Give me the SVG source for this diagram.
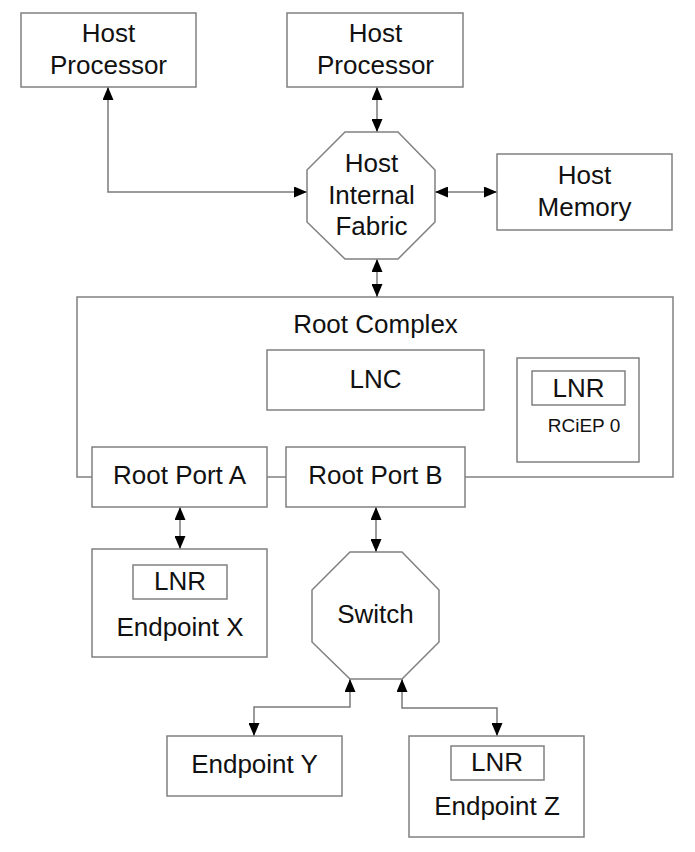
<svg xmlns="http://www.w3.org/2000/svg" width="695" height="852" viewBox="0 0 695 852">
<style>
.box{fill:#fff;stroke:#808080;stroke-width:1.5}
.rc{fill:none;stroke:#808080;stroke-width:1.5}
.t{font-family:"Liberation Sans",Arial,sans-serif;font-size:26px;fill:#111;text-anchor:middle}
.s{font-family:"Liberation Sans",Arial,sans-serif;font-size:19px;fill:#111;text-anchor:middle}
.c{fill:none;stroke:#7a7a7a;stroke-width:1.5;marker-start:url(#ah);marker-end:url(#ah)}
</style>
<defs>
<marker id="ah" markerUnits="userSpaceOnUse" markerWidth="13" markerHeight="11" refX="13" refY="5.5" orient="auto-start-reverse" viewBox="0 0 13 11">
<path d="M0,0 L13,5.5 L0,11 z" fill="#000"/>
</marker>
</defs>
<rect width="695" height="852" fill="#fff"/>

<g id="root-complex">
<rect class="rc" x="77" y="297" width="596" height="180"/>
<text class="t" x="375.5" y="333">Root Complex</text>
</g>

<g id="connectors">
<path class="c" d="M108,87 V192 H307"/>
<path class="c" d="M377,87 V132"/>
<path class="c" d="M435,192 H497"/>
<path class="c" d="M377,259 V297"/>
<path class="c" d="M180,507 V549"/>
<path class="c" d="M376,507 V552"/>
<path class="c" d="M350,679 V707 H254 V736"/>
<path class="c" d="M402,679 V708 H497 V736"/>
</g>

<g id="host-processor-1">
<rect class="box" x="21" y="13" width="175" height="74"/>
<text class="t" x="108.5" y="42">Host</text>
<text class="t" x="108.5" y="74">Processor</text>
</g>

<g id="host-processor-2">
<rect class="box" x="287" y="13" width="176" height="74"/>
<text class="t" x="375.5" y="42">Host</text>
<text class="t" x="375.5" y="74">Processor</text>
</g>

<g id="host-internal-fabric">
<polygon class="box" points="345,132 398,132 435,170 435,222 398,259 345,259 307,222 307,170"/>
<text class="t" x="371.5" y="172">Host</text>
<text class="t" x="371.5" y="204">Internal</text>
<text class="t" x="371.5" y="235">Fabric</text>
</g>

<g id="host-memory">
<rect class="box" x="497" y="154" width="175" height="76"/>
<text class="t" x="584.5" y="184">Host</text>
<text class="t" x="584.5" y="216">Memory</text>
</g>

<g id="lnc">
<rect class="box" x="267" y="350" width="217" height="60"/>
<text class="t" x="375.5" y="388">LNC</text>
</g>

<g id="rciep-0">
<rect class="box" x="517" y="358" width="122" height="104"/>
<rect class="box" x="532" y="371" width="93" height="34"/>
<text class="t" x="578.5" y="397">LNR</text>
<text class="s" x="584" y="432">RCiEP 0</text>
</g>

<g id="root-port-a">
<rect class="box" x="92" y="447" width="175" height="60"/>
<text class="t" x="179.5" y="484">Root Port A</text>
</g>

<g id="root-port-b">
<rect class="box" x="286" y="447" width="179" height="60"/>
<text class="t" x="375.5" y="484">Root Port B</text>
</g>

<g id="endpoint-x">
<rect class="box" x="92" y="549" width="175" height="108"/>
<rect class="box" x="133" y="565" width="94" height="34"/>
<text class="t" x="180" y="590">LNR</text>
<text class="t" x="180" y="636">Endpoint X</text>
</g>

<g id="switch">
<polygon class="box" points="350,552 402,552 439,590 439,642 402,679 350,679 312,642 312,590"/>
<text class="t" x="375.5" y="623">Switch</text>
</g>

<g id="endpoint-y">
<rect class="box" x="167" y="736" width="175" height="60"/>
<text class="t" x="254.5" y="773">Endpoint Y</text>
</g>

<g id="endpoint-z">
<rect class="box" x="409" y="736" width="175" height="101"/>
<rect class="box" x="451" y="746" width="93" height="34"/>
<text class="t" x="497" y="771">LNR</text>
<text class="t" x="497" y="815">Endpoint Z</text>
</g>
</svg>
